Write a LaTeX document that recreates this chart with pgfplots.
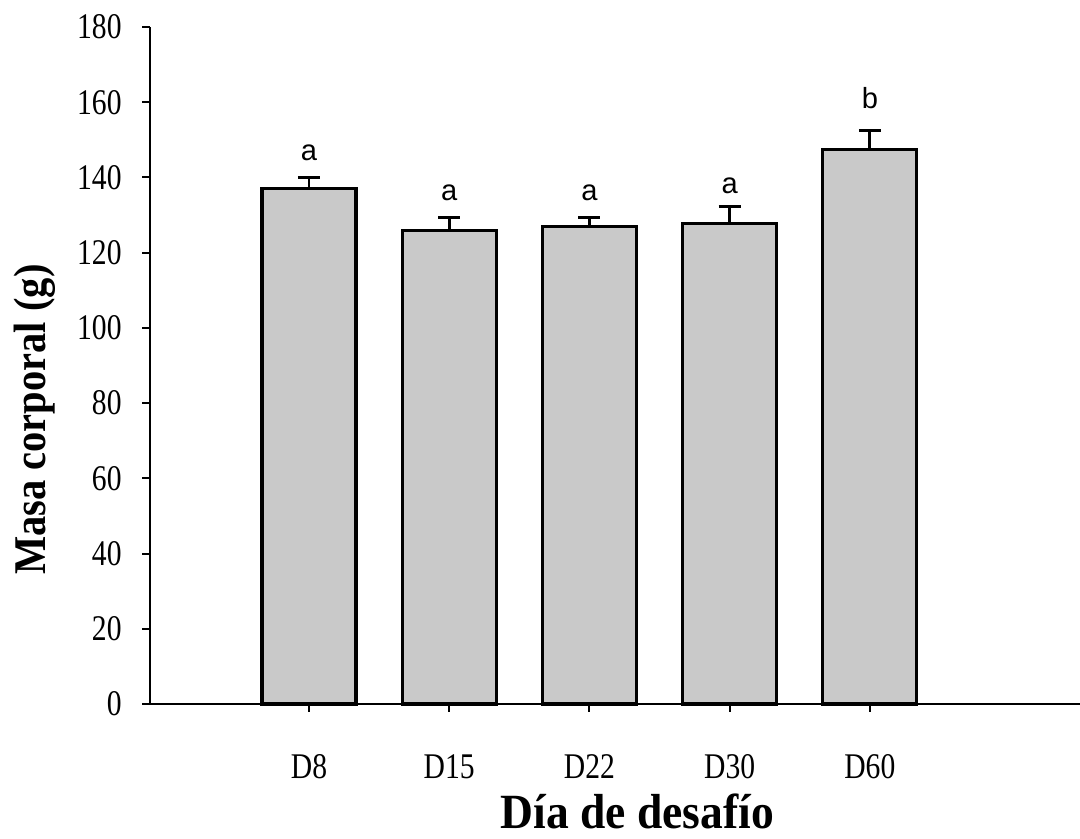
\documentclass[border=0pt]{standalone}
\usepackage{graphicx}
\usepackage{pgfplots}
\pgfplotsset{compat=1.18}
\usepackage{pgfplotstable}
\usepackage{fontspec}
\setmainfont{Liberation Serif}
\newfontfamily\sansf{Liberation Sans}

\pgfplotstableread{
x y err
0 137.0 3.0
1 125.8 3.6
2 126.9 2.4
3 127.7 4.6
4 147.5 4.9
}\bars

\pgfplotstableread{
x y lab
0 146.5 a
1 136.0 a
2 136.0 a
3 137.8 a
4 161.0 b
}\letters

\newcommand{\tall}[1]{\scalebox{1}[1.22]{#1}}

\begin{document}
\begin{tikzpicture}[x=1cm,y=1cm]
\def\px{0.0138889}
\useasboundingbox (-150*\px,-134*\px) rectangle (930*\px,704*\px);
\begin{axis}[
  at={(0,0)}, anchor=south west,
  scale only axis,
  width=930*\px cm, height=677*\px cm,
  xmin=-1.134, xmax=5.499,
  ymin=0, ymax=180,
  axis x line*=bottom, axis y line*=left,
  axis line style={line width=0.9pt},
  every tick/.style={black, line width=0.8pt},
  tick align=outside,
  major tick length=0.11cm,
  ytick={0,20,...,180},
  xtick={0,1,2,3,4},
  xticklabels={\tall{D8},\tall{D15},\tall{D22},\tall{D30},\tall{D60}},
  yticklabel={\tall{\pgfmathprintnumber[assume math mode=true]{\tick}}},
  ticklabel style={font=\fontsize{11.7}{13}\selectfont},
  yticklabel style={xshift=-0.16cm},
  xticklabel style={anchor=base, yshift=-0.92cm},
  every axis y label/.style={at={(axis description cs:-0.1237,0.42)}, rotate=90, anchor=center},
  every axis x label/.style={at={(axis description cs:0.524,-0.158)}, anchor=center},
  ylabel={\fontsize{16}{18}\selectfont\bfseries\scalebox{1}[1.12]{Masa corporal (g)}},
  xlabel={\fontsize{18}{20}\selectfont\bfseries\scalebox{1}[1.08]{Día de desafío}},
  clip=false,
]
\addplot[ybar, bar width=94*\px cm, bar shift=0pt, fill=gray!42, draw=black, line width=1.2pt,
  error bars/.cd, y dir=plus, y explicit,
  error bar style={line width=1.1pt, black},
  error mark options={line width=1.1pt, black, mark size=0.153cm, rotate=90}]
  table[x=x, y=y, y error=err] {\bars};
\addplot[only marks, mark=none, draw=none,
  point meta=explicit symbolic,
  nodes near coords,
  every node near coord/.style={anchor=center, font=\sansf\fontsize{11.5}{13}\selectfont}]
  table[x=x, y=y, meta=lab] {\letters};
\end{axis}
\end{tikzpicture}
\end{document}
